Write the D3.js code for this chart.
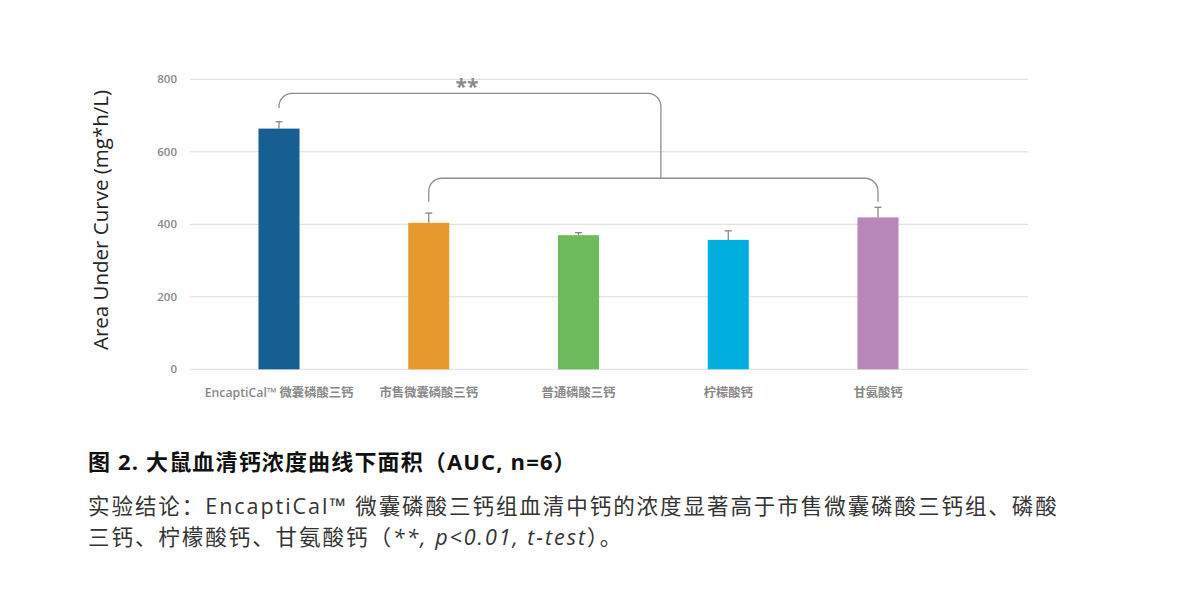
<!DOCTYPE html>
<html>
<head>
<meta charset="utf-8">
<script src="https://cdn.jsdelivr.net/npm/d3@7"></script>
<style>
  html, body { margin: 0; padding: 0; background: #fff; }
  svg { display: block; }
</style>
</head>
<body>
<svg id="chart" width="1200" height="615"></svg>
<script>
// ---- data ----
const categories = ["EncaptiCal\u2122 微囊磷酸三钙", "市售微囊磷酸三钙", "普通磷酸三钙", "柠檬酸钙", "甘氨酸钙"];
const aucValues = [664, 404, 370, 357, 419];
const aucErrors = [19, 27, 7, 25, 28];
const barColors = ["#155f92", "#e8992e", "#6dbb5a", "#00aedf", "#b889b8"];
const yTicks = [0, 200, 400, 600, 800];
const yAxisTitle = "Area Under Curve (mg*h/L)";
const sigLabel = "**";
// bracket levels (value units) and junction (category position)
const lowerBracket = { from: 1, to: 4, level: 527, foot: 462 };
const upperBracket = { from: 0, level: 761, foot: 721, joinPos: 2.55 };
const captionTitle = "图 2. 大鼠血清钙浓度曲线下面积（AUC, n=6）";
const captionLines = [
  "实验结论：EncaptiCal\u2122 微囊磷酸三钙组血清中钙的浓度显著高于市售微囊磷酸三钙组、磷酸",
  "三钙、柠檬酸钙、甘氨酸钙（"
];

// ---- layout ----
const svg = d3.select("#chart");
svg.append("rect").attr("width", 1200).attr("height", 615).attr("fill", "#fff");

const gridLeft = 190, gridRight = 1028;
const y = d3.scaleLinear().domain([0, 800]).range([369.3, 79.3]);
const xPos = d3.scaleLinear().domain([0, 4]).range([279, 878]);
const x = d3.scaleBand().domain(categories).range([xPos(-0.5), xPos(4.5)]).paddingInner(0.726).paddingOuter(0.363);
const cx = c => x(c) + x.bandwidth() / 2;

const latin = "'Open Sans', 'Noto Sans CJK SC', sans-serif";

// gridlines
svg.append("g").selectAll("line").data(yTicks).join("line")
  .attr("x1", gridLeft).attr("x2", gridRight)
  .attr("y1", d => y(d)).attr("y2", d => y(d))
  .attr("stroke", "#dcdcdc").attr("stroke-width", 1);

// y axis labels
const yAxis = d3.axisLeft(y).tickValues(yTicks).tickSize(0).tickPadding(0);
const gy = svg.append("g").attr("transform", `translate(${177},0)`).call(yAxis);
gy.select(".domain").remove();
gy.selectAll("text").attr("font-family", latin).attr("font-size", 11.5)
  .attr("font-weight", 600).attr("fill", "#8a8a8a");

// axis title
svg.append("text")
  .attr("transform", `translate(108,220) rotate(-90)`)
  .attr("text-anchor", "middle")
  .attr("font-family", latin).attr("font-size", 20.5)
  .attr("fill", "#222").text(yAxisTitle);

// bars
svg.append("g").selectAll("rect").data(categories).join("rect")
  .attr("x", d => x(d)).attr("width", x.bandwidth())
  .attr("y", (d, i) => y(aucValues[i]))
  .attr("height", (d, i) => y(0) - y(aucValues[i]))
  .attr("fill", (d, i) => barColors[i]);

// error bars
const eb = svg.append("g").attr("stroke", "#7f7f7f").attr("stroke-width", 1.2);
categories.forEach((c, i) => {
  const xc = cx(c);
  eb.append("line").attr("x1", xc).attr("x2", xc)
    .attr("y1", y(aucValues[i])).attr("y2", y(aucValues[i] + aucErrors[i]));
  eb.append("line").attr("x1", xc - 3.5).attr("x2", xc + 3.5)
    .attr("y1", y(aucValues[i] + aucErrors[i])).attr("y2", y(aucValues[i] + aucErrors[i]));
});

// category labels
svg.append("g").selectAll("text").data(categories).join("text")
  .attr("x", d => cx(d)).attr("y", 397)
  .attr("text-anchor", "middle")
  .attr("font-family", latin).attr("font-size", 12.3).attr("font-weight", 600)
  .attr("fill", "#888").text(d => d);

// brackets
const r = 13;
const bg = svg.append("g").attr("fill", "none").attr("stroke", "#8f8f8f").attr("stroke-width", 1.3);
{
  const x1 = cx(categories[lowerBracket.from]), x2 = cx(categories[lowerBracket.to]);
  const yl = y(lowerBracket.level), yf = y(lowerBracket.foot);
  const p = d3.path();
  p.moveTo(x1, yf); p.lineTo(x1, yl + r);
  p.arcTo(x1, yl, x1 + r, yl, r);
  p.lineTo(x2 - r, yl);
  p.arcTo(x2, yl, x2, yl + r, r);
  p.lineTo(x2, yf);
  bg.append("path").attr("d", p.toString());
}
{
  const x1 = cx(categories[upperBracket.from]), xj = xPos(upperBracket.joinPos);
  const yu = y(upperBracket.level), yf = y(upperBracket.foot), yl = y(lowerBracket.level);
  const p = d3.path();
  p.moveTo(x1, yf); p.lineTo(x1, yu + r);
  p.arcTo(x1, yu, x1 + r, yu, r);
  p.lineTo(xj - r, yu);
  p.arcTo(xj, yu, xj, yu + r, r);
  p.lineTo(xj, yl);
  bg.append("path").attr("d", p.toString());
}
svg.append("text").attr("x", 467).attr("y", 94).attr("text-anchor", "middle")
  .attr("font-family", latin).attr("font-size", 21).attr("font-weight", 700)
  .attr("fill", "#8a8a8a").text(sigLabel);

// caption
svg.append("text").attr("x", 88).attr("y", 470)
  .attr("font-family", latin).attr("font-size", 22).attr("font-weight", 700)
  .attr("letter-spacing", 1.15)
  .attr("fill", "#111").text(captionTitle);

svg.append("text").attr("x", 88).attr("y", 514)
  .attr("font-family", latin).attr("font-size", 21.5)
  .attr("letter-spacing", 1.95)
  .attr("fill", "#333").text(captionLines[0]);

const l2 = svg.append("text").attr("x", 88).attr("y", 545)
  .attr("font-family", latin).attr("font-size", 21.5)
  .attr("letter-spacing", 1.95).attr("fill", "#333");
l2.append("tspan").text(captionLines[1]);
l2.append("tspan").attr("font-style", "italic").text("**, p<0.01, t-test");
l2.append("tspan").text("）。");
</script>
</body>
</html>
